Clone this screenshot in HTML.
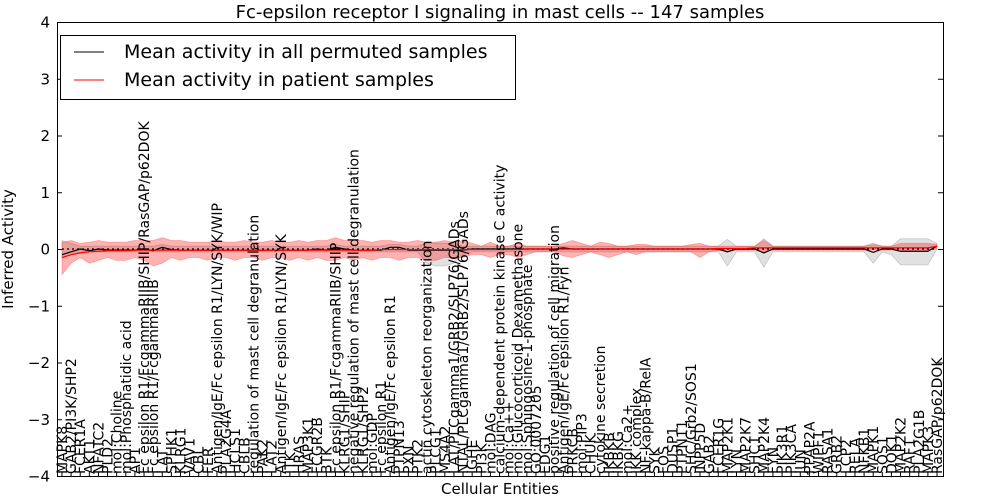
<!DOCTYPE html>
<html><head><meta charset="utf-8"><style>
body{margin:0;background:#fff;}
svg{display:block;font-family:"DejaVu Sans","Liberation Sans",sans-serif;}
</style></head><body>
<svg id="chart" width="1000" height="500" viewBox="0 0 1000 500" xmlns="http://www.w3.org/2000/svg">
<rect width="1000" height="500" fill="#fff"/>
<text x="500" y="18" text-anchor="middle" font-size="18">Fc-epsilon receptor I signaling in mast cells -- 147 samples</text>
<g id="plot"></g>
<text transform="translate(13,249) rotate(-90)" text-anchor="middle" font-size="15">Inferred Activity</text>
<text x="500" y="494" text-anchor="middle" font-size="15">Cellular Entities</text>
<g>
<rect x="60.5" y="35.5" width="455" height="64" fill="#fff" stroke="#000"/>
<line x1="74" y1="52" x2="104" y2="52" stroke="#000" stroke-width="1"/>
<text x="124" y="58" font-size="19">Mean activity in all permuted samples</text>
<line x1="74" y1="80" x2="104" y2="80" stroke="#f00" stroke-width="1"/>
<text x="124" y="86" font-size="19">Mean activity in patient samples</text>
</g>
</svg>
<script>
const categories=["MAPK8","GAB2/PI3K/SHP2","FCER1A","AKT1","NFATC2","PLD2","mol:Choline","mol:Phosphatidic acid","AP1","Fc epsilon R1/FcgammaRIIB/SHIP/RasGAP/p62DOK","Fc epsilon R1/FcgammaRIIB","LAT","SPHK1","KLRG1","VAV1","CBL","FER","Antigen/IgE/Fc epsilon R1/LYN/SYK/WIP","PLA2G4A","HCLS1","CBLB","regulation of mast cell degranulation","PAK2","LAT2","Antigen/IgE/Fc epsilon R1/LYN/SYK","ITK","HRAS","MAP3K1","FCGR2B","BTK","Fc epsilon R1/FcgammaRIIB/SHIP","KLRG1/SHIP","negative regulation of mast cell degranulation","KLRG1/SHP2","mol:GDP","Fc epsilon R1","Antigen/IgE/Fc epsilon R1","PTPN13","PXN","PTK2","actin cytoskeleton reorganization","PLCG1","MS4A2","LAT/PLCgamma1/GRB2/SLP76/GADs","NTAL/PLCgamma1/GRB2/SLP76/GADs","IGHE","PI3K","mol:DAG","calcium-dependent protein kinase C activity","mol:Ca++","mol:Glucocorticoid Dexamethasone","mol:Sphingosine-1-phosphate","GO:0007205","EDG1","positive regulation of cell migration","Antigen/IgE/Fc epsilon R1/Fyn","PRKCB","mol:PIP3","CHUK","cytokine secretion","IKBKB","IKBKG","mol:Ca2+","IKK complex","NF-kappa-B/RelA","SYK","FOS","DUSP1","PTPN11","SHC/Grb2/SOS1","INPP5D","GAB2","FCER1G","MAP2K1","LYN","MAP2K7","SHC1","MAP2K4","FYN","PIK3R1","PIK3CA","JUN","PPAP2A","WIPF1","RASA1","GRB2","LCP2","RELA","NFKB1","MAPK1","SOS1","DOK1","MAP2K2","RAF1","PLA2G1B","MAPK3","RasGAP/p62DOK"];
const permMean=[-0.1,-0.05,0,-0.03,0,-0.02,-0.02,-0.02,-0.02,0,-0.03,0.03,-0.01,-0.02,-0.02,-0.02,-0.02,-0.02,-0.02,-0.02,-0.02,-0.02,-0.02,-0.02,-0.02,-0.02,-0.02,-0.02,0,-0.02,0.03,0,-0.02,-0.02,-0.02,-0.02,0.03,0.03,-0.02,-0.02,-0.02,-0.02,-0.02,-0.02,-0.02,0,0,0,0,0,0,0,0,0,0,0.02,0,0,0,0,0,0,0,0,0,0,0,0,0,0,0,0,0,-0.05,0,0,0,-0.07,0,0,0,0,0,0,0,0,0,0,0,-0.06,0,0,-0.04,-0.04,-0.04,-0.04,0.05];
const permLo=[-0.15,-0.1,-0.05,-0.05,-0.05,-0.05,-0.05,-0.05,-0.05,-0.05,-0.05,-0.05,-0.05,-0.05,-0.05,-0.05,-0.05,-0.05,-0.05,-0.05,-0.05,-0.05,-0.05,-0.05,-0.05,-0.05,-0.05,-0.05,-0.05,-0.05,-0.05,-0.05,-0.05,-0.05,-0.05,-0.05,-0.05,-0.05,-0.05,-0.05,-0.25,-0.3,-0.3,-0.25,-0.1,-0.05,-0.05,-0.05,-0.05,-0.05,-0.05,-0.05,-0.05,-0.05,-0.05,-0.05,-0.05,-0.05,-0.05,-0.05,-0.05,-0.05,-0.05,-0.05,-0.05,-0.05,-0.05,-0.05,-0.05,-0.05,-0.05,-0.05,-0.05,-0.3,-0.05,-0.05,-0.05,-0.32,-0.05,-0.05,-0.05,-0.05,-0.05,-0.05,-0.05,-0.05,-0.05,-0.05,-0.05,-0.25,-0.05,-0.1,-0.28,-0.28,-0.28,-0.28,0];
const permHi=[0.15,0.1,0.05,0.05,0.05,0.05,0.05,0.05,0.05,0.05,0.05,0.08,0.05,0.05,0.05,0.05,0.05,0.05,0.05,0.05,0.05,0.05,0.05,0.05,0.05,0.05,0.05,0.05,0.05,0.05,0.08,0.05,0.05,0.05,0.05,0.05,0.08,0.08,0.05,0.05,0.1,0.1,0.1,0.1,0.05,0.05,0.05,0.05,0.05,0.05,0.05,0.05,0.05,0.05,0.05,0.05,0.05,0.05,0.05,0.05,0.05,0.05,0.05,0.05,0.05,0.05,0.05,0.05,0.05,0.05,0.05,0.05,0.05,0.17,0.05,0.05,0.05,0.18,0.05,0.05,0.05,0.05,0.05,0.05,0.05,0.05,0.05,0.05,0.05,0.1,0.05,0.05,0.18,0.18,0.18,0.18,0.1];
const patMean=[-0.15,-0.1,-0.07,-0.05,-0.04,-0.03,-0.03,-0.03,-0.02,-0.02,-0.02,-0.02,-0.02,-0.02,-0.02,-0.02,-0.02,-0.02,-0.02,-0.02,-0.02,-0.02,-0.02,-0.02,-0.02,-0.02,-0.02,-0.02,-0.02,-0.02,-0.02,-0.02,-0.02,-0.02,-0.02,-0.01,-0.01,-0.01,-0.01,-0.01,-0.01,-0.01,-0.01,-0.01,-0.01,-0.01,-0.01,-0.01,-0.01,-0.01,-0.01,0,0,0,0,0,0,0,0,0,0,0,0,0,0,0,0,0,0,0,0,0,0.01,0.01,0.01,0.01,0.02,0.02,0.02,0.02,0.02,0.02,0.02,0.02,0.02,0.02,0.02,0.02,0.02,0.02,0.02,0.02,0.02,0.02,0.02,0.02,0.05];
const patLo=[-0.45,-0.25,-0.15,-0.25,-0.2,-0.15,-0.2,-0.2,-0.15,-0.2,-0.3,-0.25,-0.15,-0.2,-0.15,-0.15,-0.2,-0.15,-0.15,-0.2,-0.15,-0.15,-0.2,-0.15,-0.15,-0.2,-0.15,-0.2,-0.15,-0.2,-0.2,-0.15,-0.2,-0.15,-0.2,-0.15,-0.15,-0.2,-0.15,-0.15,-0.2,-0.2,-0.15,-0.15,-0.15,-0.1,-0.1,-0.15,-0.1,-0.1,-0.15,-0.1,-0.05,-0.05,-0.05,-0.12,-0.15,-0.1,-0.05,-0.1,-0.15,-0.1,-0.05,-0.1,-0.05,-0.05,-0.05,-0.05,-0.05,-0.05,-0.15,-0.05,-0.03,-0.02,-0.02,-0.02,-0.02,-0.05,-0.02,-0.02,-0.02,-0.02,-0.02,-0.02,-0.02,-0.02,-0.02,-0.02,-0.02,-0.02,-0.02,-0.02,-0.02,-0.02,-0.02,-0.02,0];
const patHi=[0.12,0.15,0.1,0.12,0.15,0.12,0.12,0.12,0.15,0.15,0.15,0.2,0.15,0.15,0.12,0.12,0.12,0.15,0.12,0.12,0.15,0.12,0.12,0.15,0.12,0.12,0.15,0.12,0.15,0.15,0.2,0.15,0.15,0.15,0.12,0.15,0.15,0.12,0.12,0.15,0.12,0.12,0.15,0.12,0.15,0.1,0.05,0.12,0.05,0.05,0.1,0.05,0.05,0.05,0.05,0.1,0.15,0.1,0.05,0.12,0.1,0.05,0.05,0.08,0.08,0.05,0.05,0.05,0.05,0.08,0.1,0.05,0.05,0.05,0.05,0.05,0.05,0.15,0.05,0.05,0.05,0.05,0.05,0.05,0.05,0.05,0.05,0.05,0.05,0.08,0.05,0.05,0.1,0.1,0.1,0.1,0.08];
const yTicks=[-4,-3,-2,-1,0,1,2,3,4];

const L=57,R=943,T=22,B=476;
const x0=62,x1=937;
const xs=i=>x0+i*(x1-x0)/(categories.length-1);
const ys=v=>T+(4-v)*(B-T)/8;
const NS="http://www.w3.org/2000/svg";
const g=document.getElementById('plot');
function mk(tag,attrs,parent){const e=document.createElementNS(NS,tag);for(const k in attrs)e.setAttribute(k,attrs[k]);(parent||g).appendChild(e);return e;}
function band(lo,hi,fill,op,stroke,name){
  let d='M'+lo.map((v,i)=>xs(i)+','+ys(v)).join('L');
  for(let i=hi.length-1;i>=0;i--)d+='L'+xs(i)+','+ys(hi[i]);
  const p=mk('path',{d:d+'Z',fill:fill,'fill-opacity':op,stroke:stroke,'stroke-opacity':0.4,'stroke-width':0.8});
  
  
}
function line(vals,color,name,dash){
  const p=mk('polyline',{points:vals.map((v,i)=>xs(i)+','+ys(v)).join(' '),fill:'none',stroke:color,'stroke-width':1.2});
  if(dash)p.setAttribute('stroke-dasharray',dash);
  
  
}
band(permLo,permHi,'#aaa',0.35,'#888','permuted-band');
band(patLo,patHi,'#f00',0.3,'#f44','patient-band');
line(permMean,'#000','permuted-mean-line');
line(categories.map(()=>0),'#000','zero-reference-line','2,3');
line(patMean,'#f00','patient-mean-line');
const fr=mk('rect',{x:L+0.5,y:T+0.5,width:R-L,height:B-T,fill:'none',stroke:'#000','stroke-width':1});


yTicks.forEach(v=>{
  const y=ys(v)+0.5;
  mk('line',{x1:L,y1:y,x2:L+5,y2:y,stroke:'#000'});
  mk('line',{x1:R-5,y1:y,x2:R,y2:y,stroke:'#000'});
  const t=mk('text',{x:L-7,y:y+5,'text-anchor':'end','font-size':15});
  t.textContent=(v<0?'\u2212':'')+Math.abs(v);
  
  
});
categories.forEach((c,i)=>{
  const x=xs(i);
  mk('line',{x1:x,y1:B,x2:x,y2:B-4,stroke:'#000'});
  const t=mk('text',{transform:'translate('+(x+5)+','+(B-2)+') rotate(-90)','font-size':14});
  t.textContent=c;
  
  
});
</script>
</body></html>
